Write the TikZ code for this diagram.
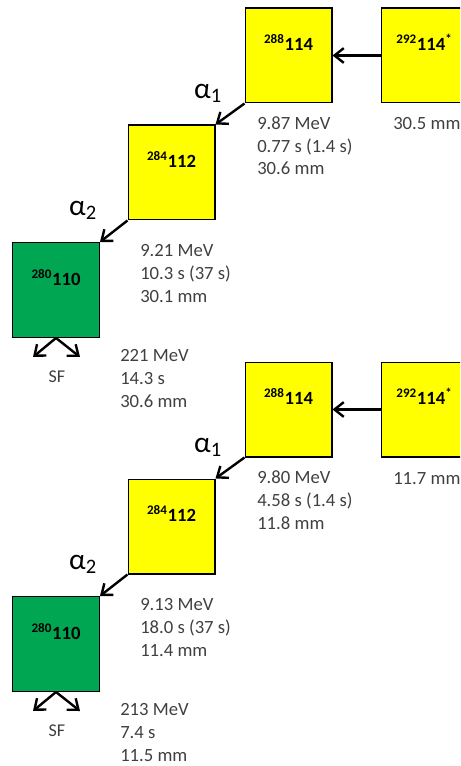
\documentclass[tikz,border=0pt]{standalone}
\usepackage{fontspec}
\setmainfont{Carlito}
\usetikzlibrary{arrows.meta, positioning, calc}
\definecolor{nucyellow}{RGB}{255,255,0}
\definecolor{nucgreen}{RGB}{0,166,81}
\definecolor{infogray}{RGB}{64,64,64}
\tikzset{
    nuc/.style={rectangle, draw=black, line width=1pt, fill=nucyellow, minimum width=65pt,
                inner sep=0pt, text height=32pt, text depth=39pt, font=\fontsize{14}{16}\selectfont\bfseries},
    fission/.style={nuc, fill=nucgreen},
    info/.style={align=left, anchor=base west, inner sep=0pt, text=infogray,
                 font=\fontsize{14}{17}\selectfont},
    decay/.style={line width=1.8pt, -{Straight Barb[length=7pt, width=11pt]}},
    alab/.style={inner sep=0pt, font=\fontsize{22}{22}\selectfont},
    sflab/.style={inner sep=0pt, text=infogray, font=\fontsize{13.5}{14}\selectfont}
}

\begin{document}
\begin{tikzpicture}[x=0.75pt, y=-0.75pt]
    \clip (0,0) rectangle (460,766);

    % First chain
    \node[nuc] (cnA) at (424.5,55.5) {\textsuperscript{292}114\textsuperscript{*}};
    \node[nuc] (flA) at (288.5,55.5) {\textsuperscript{288}114};
    \node[nuc] (cnpA) at (171.5,172.5) {\textsuperscript{284}112};
    \node[fission] (dsA) at (56,290) {\textsuperscript{280}110};
    \coordinate (sflA) at (33,357);
    \coordinate (sfrA) at (80,357);

    \draw[decay] (cnA.west) -- (flA.east);
    \draw[decay] (flA.south west) -- (cnpA.north east);
    \draw[decay] (cnpA.south west) -- (dsA.north east);
    \draw[decay] (dsA.south) -- (sflA);
    \draw[decay] (dsA.south) -- (sfrA);

    \node[alab] (a1A) at (208,93) {α\textsubscript{1}};
    \node[alab] (a2A) at (83,210) {α\textsubscript{2}};
    \node[sflab] (sfA) at (57,377) {SF};

    % (base = last line)
    \node[info] (iA0) at (393,130) {30.5 mm};
    \node[info] (iA1) at (257,175) {9.87 MeV\\0.77 s (1.4 s)\\30.6 mm};
    \node[info] (iA2) at (140,302) {9.21 MeV\\10.3 s (37 s)\\30.1 mm};
    \node[info] (iA3) at (120,407) {221 MeV\\14.3 s\\30.6 mm};

    % Second chain
    \node[nuc] (cnB) at (424.5,409.5) {\textsuperscript{292}114\textsuperscript{*}};
    \node[nuc] (flB) at (288.5,409.5) {\textsuperscript{288}114};
    \node[nuc] (cnpB) at (171.5,526.5) {\textsuperscript{284}112};
    \node[fission] (dsB) at (56,644) {\textsuperscript{280}110};
    \coordinate (sflB) at (33,711);
    \coordinate (sfrB) at (80,711);

    \draw[decay] (cnB.west) -- (flB.east);
    \draw[decay] (flB.south west) -- (cnpB.north east);
    \draw[decay] (cnpB.south west) -- (dsB.north east);
    \draw[decay] (dsB.south) -- (sflB);
    \draw[decay] (dsB.south) -- (sfrB);

    \node[alab] (a1B) at (208,447) {α\textsubscript{1}};
    \node[alab] (a2B) at (83,564) {α\textsubscript{2}};
    \node[sflab] (sfB) at (57,731) {SF};

    \node[info] (iB0) at (393,484) {11.7 mm};
    \node[info] (iB1) at (257,529) {9.80 MeV\\4.58 s (1.4 s)\\11.8 mm};
    \node[info] (iB2) at (140,656) {9.13 MeV\\18.0 s (37 s)\\11.4 mm};
    \node[info] (iB3) at (120,761) {213 MeV\\7.4 s\\11.5 mm};
\end{tikzpicture}
\end{document}
